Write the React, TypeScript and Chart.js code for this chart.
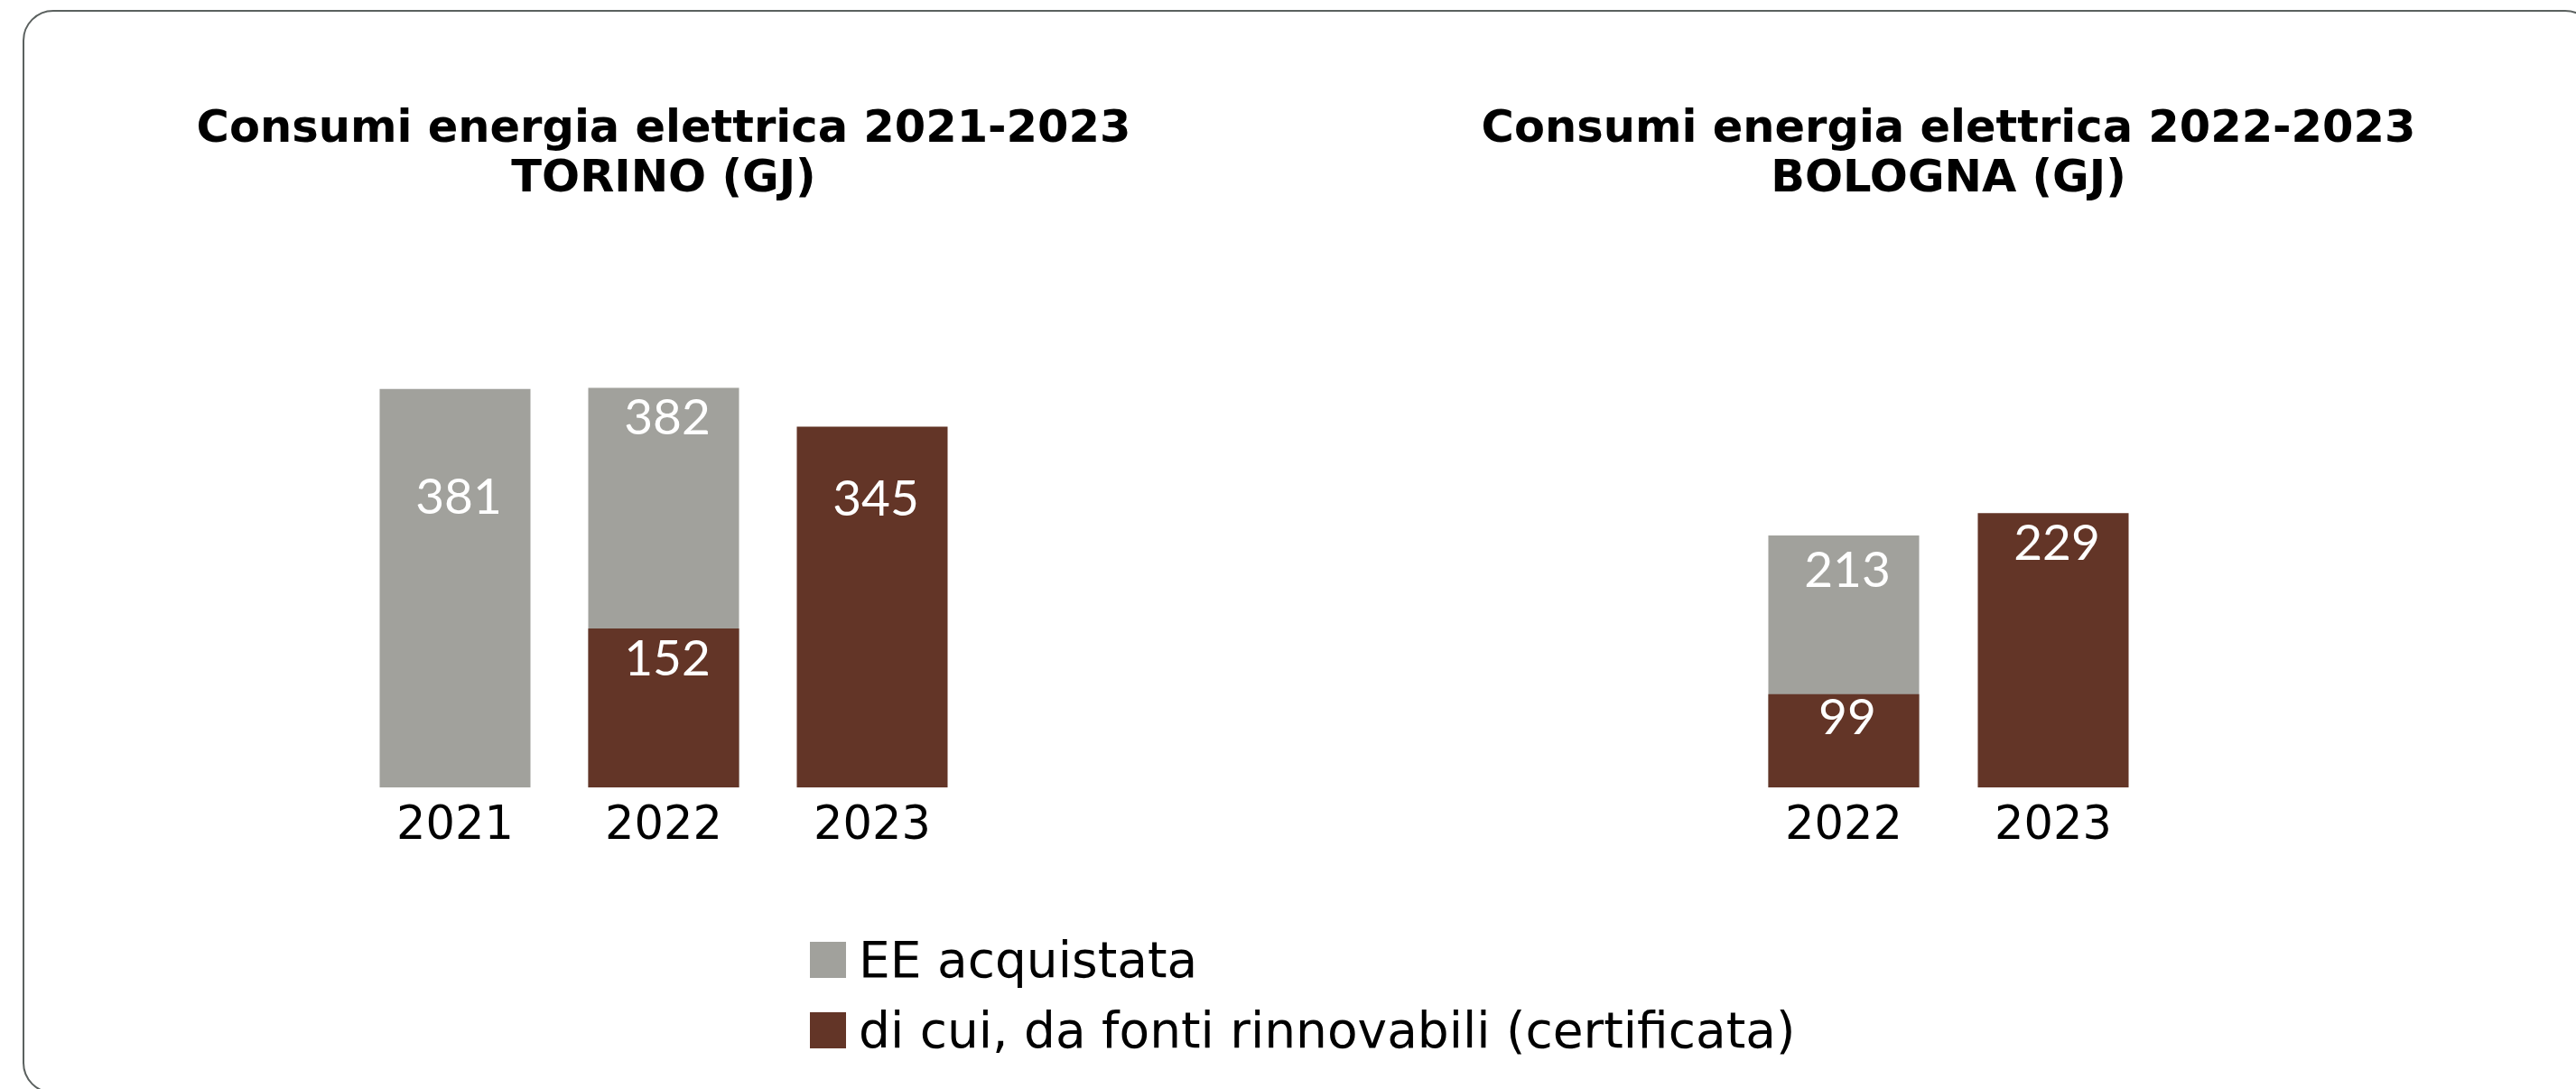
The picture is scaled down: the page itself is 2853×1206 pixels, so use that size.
import React, { useEffect, useRef } from "react";
import { Chart, registerables } from "chart.js";

Chart.register(...registerables);

// ---- data ----
const SERIES_NAMES = ["EE acquistata", "di cui, da fonti rinnovabili (certificata)"];

const TORINO_TITLE = ["Consumi energia elettrica 2021-2023", "TORINO (GJ)"];
const TORINO_YEARS = ["2021", "2022", "2023"];
const TORINO_EE_ACQUISTATA = [381, 382, null];
const TORINO_RINNOVABILI = [null, 152, 345];

const BOLOGNA_TITLE = ["Consumi energia elettrica 2022-2023", "BOLOGNA (GJ)"];
const BOLOGNA_YEARS = ["2022", "2023"];
const BOLOGNA_EE_ACQUISTATA = [213, null];
const BOLOGNA_RINNOVABILI = [99, 229];

// ---- style ----
const GRAY = "#A1A19C";
const BROWN = "#633527";
const FONT = "'DejaVu Sans', 'Open Sans', sans-serif";
const NUM_FONT = "Lato, 'Open Sans', sans-serif";

const valueLabels = {
  id: "valueLabels",
  afterDatasetsDraw(chart: any, _args: any, opts: any) {
    const ctx = chart.ctx;
    ctx.save();
    ctx.fillStyle = opts.color;
    ctx.font = opts.font;
    ctx.textAlign = "center";
    ctx.textBaseline = "middle";
    chart.data.datasets.forEach((ds: any, di: number) => {
      const meta = chart.getDatasetMeta(di);
      meta.data.forEach((el: any, i: number) => {
        const v = ds.data[i];
        if (v == null) return;
        const off = opts.offsets?.[di]?.[i] ?? 34;
        ctx.fillText(String(v), el.x + opts.dx, el.y + off);
      });
    });
    ctx.restore();
  },
};

type PanelProps = {
  left: number;
  width: number;
  height: number;
  side: number;
  labels: string[];
  gray: (number | null)[];
  brown: (number | null)[];
  title: string[];
  yMin: number;
  yMax: number;
  offsets: (number | null)[][];
  barPct: number;
};

const X_AXIS_HEIGHT = 80;

function BarPanel(p: PanelProps) {
  const ref = useRef<HTMLCanvasElement>(null);
  useEffect(() => {
    const hiddenAxis = (extra: any) => ({
      display: true,
      grid: { display: false, drawTicks: false },
      border: { display: false },
      ticks: { display: false },
      afterFit: (s: any) => {
        s.width = p.side;
      },
      ...extra,
    });
    const chart = new Chart(ref.current as HTMLCanvasElement, {
      type: "bar",
      data: {
        labels: p.labels,
        datasets: [
          {
            label: SERIES_NAMES[0],
            data: p.gray,
            backgroundColor: GRAY,
            order: 1,
            grouped: false,
            barPercentage: p.barPct,
            categoryPercentage: 1,
          },
          {
            label: SERIES_NAMES[1],
            data: p.brown,
            backgroundColor: BROWN,
            order: 0,
            grouped: false,
            barPercentage: p.barPct,
            categoryPercentage: 1,
          },
        ] as any,
      },
      options: {
        animation: false,
        responsive: false,
        maintainAspectRatio: false,
        layout: { padding: 0 },
        plugins: {
          legend: { display: false },
          tooltip: { enabled: false },
          title: {
            display: true,
            text: p.title,
            color: "#000",
            font: { family: FONT, size: 49.5, weight: "bold", lineHeight: 1.12 },
            padding: { top: 116, bottom: 73 },
          },
          valueLabels: {
            color: "#fff",
            font: `55px ${NUM_FONT}`,
            dx: 4,
            offsets: p.offsets,
          },
        } as any,
        scales: {
          x: {
            grid: { display: false, drawTicks: false },
            border: { display: false },
            ticks: {
              color: "#000",
              font: { family: FONT, size: 51, lineHeight: 1.2 },
              padding: 13,
              maxRotation: 0,
              autoSkip: false,
            },
            afterFit: (s: any) => {
              s.height = X_AXIS_HEIGHT;
            },
          },
          y: hiddenAxis({ position: "left", min: p.yMin, max: p.yMax }),
          y2: hiddenAxis({ position: "right", min: 0, max: 1 }),
        } as any,
      },
      plugins: [valueLabels as any],
    });
    return () => chart.destroy();
  }, []);
  return (
    <canvas
      ref={ref}
      width={p.width}
      height={p.height}
      style={{ position: "absolute", left: p.left, top: 0, width: p.width, height: p.height }}
    />
  );
}

export default function App() {
  const legendRow = (top: number, color: string, text: string) => (
    <div
      style={{
        position: "absolute",
        left: 897,
        top,
        height: 40,
        display: "flex",
        alignItems: "center",
        whiteSpace: "nowrap",
      }}
    >
      <div style={{ width: 40, height: 40, background: color, flex: "0 0 auto" }} />
      <div
        style={{
          marginLeft: 14,
          fontFamily: FONT,
          fontSize: 55,
          lineHeight: "40px",
          color: "#000",
        }}
      >
        {text}
      </div>
    </div>
  );
  return (
    <div
      style={{
        position: "absolute",
        left: 0,
        top: 0,
        width: 2853,
        height: 1206,
        overflow: "hidden",
        background: "#fff",
      }}
    >
      <div
        style={{
          position: "absolute",
          left: 25,
          top: 11,
          width: 2850,
          height: 1200,
          border: "2.5px solid #5B615F",
          borderRadius: 34,
          boxSizing: "border-box",
        }}
      />
      <BarPanel
        left={26}
        width={1418}
        height={872 + X_AXIS_HEIGHT}
        side={362.5}
        labels={TORINO_YEARS}
        gray={TORINO_EE_ACQUISTATA}
        brown={TORINO_RINNOVABILI}
        title={TORINO_TITLE}
        yMin={0}
        yMax={494}
        offsets={[
          [121, 34, null],
          [null, 34, 81],
        ]}
        barPct={0.723}
      />
      <BarPanel
        left={1444}
        width={1428}
        height={872 + X_AXIS_HEIGHT}
        side={482}
        labels={BOLOGNA_YEARS}
        gray={BOLOGNA_EE_ACQUISTATA}
        brown={BOLOGNA_RINNOVABILI}
        title={BOLOGNA_TITLE}
        yMin={32}
        yMax={403}
        offsets={[
          [39, null],
          [27, 34],
        ]}
        barPct={0.72}
      />
      {legendRow(1043, GRAY, SERIES_NAMES[0])}
      {legendRow(1121, BROWN, SERIES_NAMES[1])}
    </div>
  );
}
